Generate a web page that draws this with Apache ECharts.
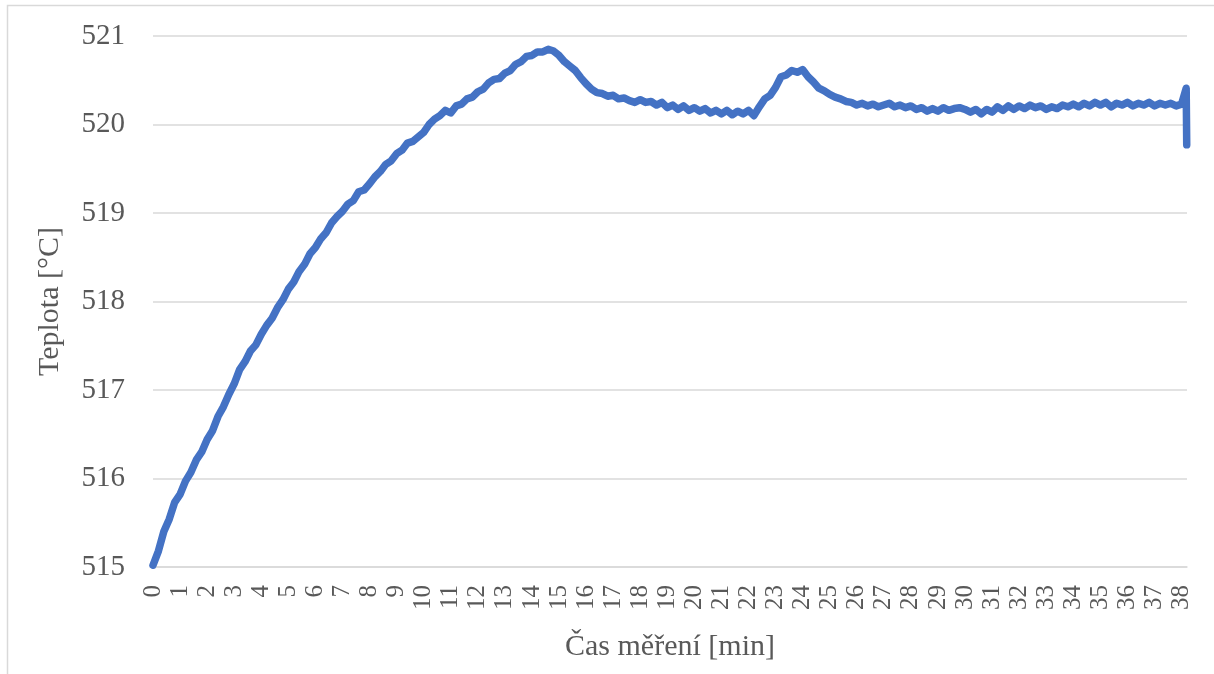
<!DOCTYPE html>
<html>
<head>
<meta charset="utf-8">
<script src="https://cdn.jsdelivr.net/npm/echarts@6/dist/echarts.min.js"></script>
<style>
html,body{margin:0;padding:0;background:#fff;}
#chart{width:1214px;height:674px;}
</style>
</head>
<body>
<div id="chart"></div>
<script>
// Sampling step of the readings (minutes)
const sampleStep = 0.2;
// Temperature readings [°C], one every 0.2 min from 0 to 38 min
const temps = [
515.02,515.18,515.40,515.54,515.73,515.82,515.97,516.07,516.21,516.30,
516.44,516.54,516.70,516.81,516.95,517.07,517.23,517.32,517.44,517.51,
517.63,517.73,517.81,517.93,518.02,518.14,518.22,518.34,518.42,518.54,
518.61,518.71,518.78,518.89,518.96,519.02,519.10,519.14,519.24,519.26,
519.33,519.41,519.47,519.55,519.59,519.67,519.71,519.79,519.81,519.86,
519.91,520.00,520.06,520.10,520.16,520.13,520.21,520.23,520.29,520.31,
520.37,520.40,520.47,520.51,520.52,520.58,520.61,520.68,520.71,520.77,
520.78,520.82,520.82,520.85,520.83,520.78,520.71,520.66,520.61,520.53,
520.46,520.40,520.36,520.35,520.32,520.33,520.29,520.30,520.27,520.25,
520.28,520.25,520.26,520.22,520.25,520.19,520.22,520.17,520.21,520.16,
520.19,520.15,520.18,520.13,520.16,520.12,520.16,520.11,520.15,520.12,
520.16,520.10,520.20,520.29,520.33,520.42,520.54,520.56,520.61,520.59,
520.62,520.54,520.48,520.41,520.38,520.34,520.31,520.29,520.26,520.25,
520.22,520.24,520.21,520.23,520.20,520.22,520.24,520.20,520.22,520.19,
520.21,520.17,520.19,520.15,520.18,520.15,520.19,520.16,520.18,520.19,
520.17,520.14,520.17,520.12,520.17,520.14,520.20,520.16,520.21,520.17,
520.21,520.18,520.22,520.19,520.21,520.17,520.20,520.18,520.22,520.20,
520.23,520.20,520.24,520.21,520.25,520.22,520.25,520.20,520.24,520.22,
520.25,520.21,520.24,520.22,520.25,520.21,520.24,520.22,520.24,520.21,
520.23
];
// Final readings at the end of the record
const endTimes = [38.17, 38.19];
const endTemps = [520.41, 519.77];

// Axis settings
const xMin = 0, xMax = 38.2, xStep = 1;
const yMin = 515, yMax = 521, yStep = 1;
const xTitle = 'Čas měření [min]';
const yTitle = 'Teplota [°C]';

const series = temps.map((v, i) => [+(i * sampleStep).toFixed(2), v]);
endTimes.forEach((t, i) => series.push([t, endTemps[i]]));

const chart = echarts.init(document.getElementById('chart'), null, {renderer: 'canvas'});
const font = '"Liberation Serif", "Times New Roman", serif';
const txt = '#595959';
const grid = '#d9d9d9';

chart.setOption({
  animation: false,
  backgroundColor: '#fff',
  graphic: [{
    type: 'rect',
    shape: {x: 7.5, y: 5.5, width: 1300, height: 800},
    style: {fill: 'none', stroke: grid, lineWidth: 1.5},
    silent: true
  }],
  grid: {left: 153, right: 27, top: 36, bottom: 107, containLabel: false},
  xAxis: {
    type: 'value',
    min: xMin, max: xMax, interval: xStep,
    name: xTitle,
    nameLocation: 'middle',
    nameGap: 65,
    nameTextStyle: {fontFamily: font, fontSize: 30, color: txt},
    axisLine: {show: true, lineStyle: {color: grid, width: 1.5}},
    axisTick: {show: false},
    splitLine: {show: false},
    axisLabel: {
      rotate: 90, margin: 18,
      fontFamily: font, fontSize: 25, color: txt,
      showMaxLabel: false,
      formatter: v => Number.isInteger(v) ? String(v) : ''
    }
  },
  yAxis: {
    type: 'value',
    min: yMin, max: yMax, interval: yStep,
    name: yTitle,
    nameLocation: 'middle',
    nameGap: 88,
    nameTextStyle: {fontFamily: font, fontSize: 30, color: txt},
    axisLine: {show: false},
    axisTick: {show: false},
    splitLine: {show: true, lineStyle: {color: grid, width: 1.5}},
    axisLabel: {margin: 28, fontFamily: font, fontSize: 29, color: txt}
  },
  series: [{
    type: 'line',
    data: series,
    showSymbol: false,
    symbol: 'none',
    lineStyle: {color: '#4472c4', width: 7.5, cap: 'round', join: 'round'},
    z: 3
  }]
});
</script>
</body>
</html>
